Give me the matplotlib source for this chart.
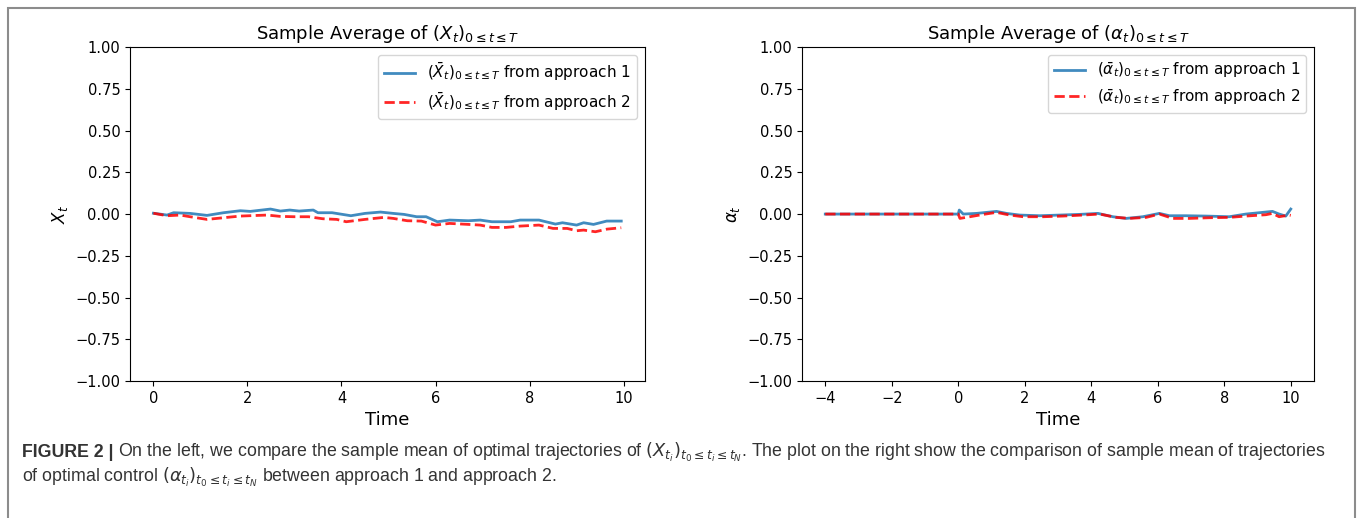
import numpy as np
import matplotlib
matplotlib.use('Agg')
import matplotlib.pyplot as plt
from matplotlib.patches import Rectangle

# left panel: sample average of X_t
tx = [0, 0.29, 0.43, 0.78, 1.14, 1.49, 1.85, 2.06, 2.49, 2.7, 2.9, 3.1, 3.4, 3.5,
      3.8, 4.2, 4.5, 4.83, 5.1, 5.33, 5.6, 5.8, 6.04, 6.3, 6.7, 6.95, 7.2, 7.6,
      7.8, 8.2, 8.55, 8.7, 9.0, 9.15, 9.36, 9.64, 9.95]
x_app1 = [0.005, -0.006, 0.008, 0.004, -0.008, 0.008, 0.02, 0.016, 0.03, 0.018,
          0.024, 0.018, 0.024, 0.008, 0.008, -0.01, 0.004, 0.012, 0.004, -0.002,
          -0.016, -0.016, -0.046, -0.036, -0.04, -0.036, -0.046, -0.046, -0.036,
          -0.036, -0.06, -0.052, -0.066, -0.052, -0.062, -0.042, -0.042]
tx2 = [0, 0.29, 0.57, 0.78, 1.14, 1.56, 1.85, 2.42, 2.7, 3.0, 3.3, 3.6, 3.9, 4.1,
       4.5, 4.9, 5.1, 5.4, 5.7, 6.0, 6.3, 6.7, 6.95, 7.2, 7.5, 7.8, 8.2, 8.5, 8.8,
       9.0, 9.15, 9.4, 9.65, 9.95]
x_app2 = [0.005, -0.01, -0.006, -0.016, -0.032, -0.02, -0.012, -0.006, -0.014,
          -0.016, -0.016, -0.028, -0.032, -0.046, -0.032, -0.02, -0.026, -0.04,
          -0.042, -0.066, -0.056, -0.062, -0.066, -0.08, -0.08, -0.072, -0.066,
          -0.086, -0.086, -0.1, -0.096, -0.106, -0.09, -0.082]

# right panel: sample average of alpha_t
ta = [-4, 0, 0.03, 0.15, 0.55, 1.15, 1.45, 1.85, 2.45, 3.05, 3.65, 4.2, 4.65,
      5.05, 5.55, 6.05, 6.35, 6.85, 7.45, 8.15, 8.65, 9.05, 9.45, 9.65, 9.85, 10.0]
a_app1 = [0, 0, 0.024, 0, 0.004, 0.016, 0.004, -0.006, -0.01, -0.006, -0.002,
          0.004, -0.016, -0.026, -0.016, 0.004, -0.01, -0.01, -0.012, -0.016, 0.0,
          0.008, 0.016, 0, -0.012, 0.03]
ta2 = [-4, 0, 0.05, 0.35, 0.75, 1.15, 1.55, 1.95, 2.55, 3.15, 3.75, 4.25, 4.75,
       5.15, 5.65, 6.05, 6.45, 6.95, 7.55, 8.15, 8.65, 9.25, 9.45, 9.65, 9.95, 10.0]
a_app2 = [0, 0, -0.026, -0.016, -0.002, 0.01, -0.006, -0.016, -0.016, -0.012,
          -0.006, 0, -0.02, -0.026, -0.02, 0, -0.026, -0.026, -0.022, -0.02, -0.012,
          -0.004, 0.004, -0.016, -0.006, -0.008]

yticks = [-1.00, -0.75, -0.50, -0.25, 0.00, 0.25, 0.50, 0.75, 1.00]

fig = plt.figure(figsize=(13.6, 5.18), dpi=100)
fig.patches.append(Rectangle((8/1360, -0.05), 1347/1360, 1 - 8/518 + 0.05,
                             transform=fig.transFigure, fill=False,
                             edgecolor='#8c8c8c', lw=1.5))

ax1 = fig.add_axes([0.0956, 0.2645, 0.3784, 0.6445])
ax2 = fig.add_axes([0.5897, 0.2645, 0.3765, 0.6445])

ax1.plot(tx, x_app1, color='#1f77b4', lw=2, alpha=0.85,
         label=r'$(\bar{X}_t)_{0\leq t\leq T}$ from approach 1')
ax1.plot(tx2, x_app2, 'r--', lw=2, alpha=0.85,
         label=r'$(\bar{X}_t)_{0\leq t\leq T}$ from approach 2')
ax1.set_title(r'Sample Average of $(X_t)_{0\leq t\leq T}$', fontsize=13)
ax1.set_ylabel(r'$X_t$', fontsize=12)
ax1.set_xticks([0, 2, 4, 6, 8, 10])

ax2.plot(ta, a_app1, color='#1f77b4', lw=2, alpha=0.85,
         label=r'$(\bar{\alpha}_t)_{0\leq t\leq T}$ from approach 1')
ax2.plot(ta2, a_app2, 'r--', lw=2, alpha=0.85,
         label=r'$(\bar{\alpha}_t)_{0\leq t\leq T}$ from approach 2')
ax2.set_title(r'Sample Average of $(\alpha_t)_{0\leq t\leq T}$', fontsize=13)
ax2.set_ylabel(r'$\alpha_t$', fontsize=12)
ax2.set_xticks([-4, -2, 0, 2, 4, 6, 8, 10])

for ax in (ax1, ax2):
    ax.set_ylim(-1, 1)
    ax.set_yticks(yticks)
    ax.set_xlabel('Time', fontsize=13)
    ax.tick_params(labelsize=10.5)
    ax.legend(loc='upper right', fontsize=11)

# caption
cap_font = ['Liberation Sans Narrow', 'Liberation Sans']
t1 = fig.text(22/1360, 1 - 457/518, 'FIGURE 2 |', fontsize=12.8, weight='bold',
              family=cap_font, color='#333333', va='baseline')
fig.canvas.draw()
bb = t1.get_window_extent()
fig.text(bb.x1/1360 + 0.003, 1 - 457/518,
         r'On the left, we compare the sample mean of optimal trajectories of '
         r'$(X_{t_i})_{t_0\leq t_i\leq t_N}$. The plot on the right show the comparison '
         r'of sample mean of trajectories',
         fontsize=12.8, family=cap_font, color='#333333', va='baseline')
fig.text(22/1360, 1 - 482/518,
         r'of optimal control $(\alpha_{t_i})_{t_0\leq t_i\leq t_N}$ between approach 1 '
         r'and approach 2.',
         fontsize=12.8, family=cap_font, color='#333333', va='baseline')

fig.savefig('out.png', dpi=100)
